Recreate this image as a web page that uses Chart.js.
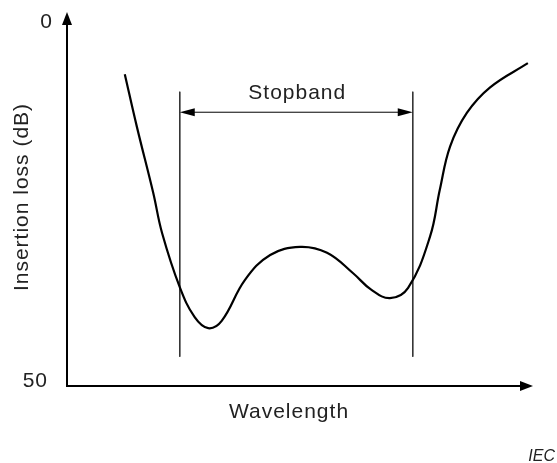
<!DOCTYPE html>
<html lang="en">
<head>
  <meta charset="UTF-8">
  <title>Insertion loss vs wavelength - stopband</title>
  <style>
    html, body { margin: 0; padding: 0; background: #fff; }
    .chart-container { width: 557px; height: 463px; }
  </style>
</head>
<body>
  <div class="chart-container">
    <canvas id="lossChart"></canvas>
  </div>

  <script src="https://cdn.jsdelivr.net/npm/chart.js"></script>
  <script>
    // wavelength (arbitrary units, no ticks on the axis)
    const wavelength = [12.4, 15.0, 18.5, 20.4, 24.2, 27.4, 30.3, 33.2, 38.2, 43.6, 50.0,
                        55.8, 61.4, 65.2, 69.3, 73.2, 77.9, 80.0, 82.2, 85.8, 90.8, 98.9];
    // insertion loss in dB (0 at top, 50 at bottom)
    const insertionLoss = [7.4, 14.6, 23.6, 29.1, 36.5, 40.6, 42.1, 41.1, 35.5, 32.1, 31.0,
                           31.8, 34.6, 36.8, 38.0, 36.6, 29.6, 23.2, 17.3, 12.7, 9.2, 5.9];

    const stopbandEdges = [24.2, 74.2];
    const stopbandSpan = [9.8, 46.0];   // dB extent of the edge markers
    const stopbandArrowAt = 12.6;       // dB level of the double arrow
    const yTickLabels = [0, 50];

    const FONT = '"Liberation Sans", Arial, sans-serif';

    const curve = wavelength.map((x, i) => ({ x: x, y: insertionLoss[i] }));
    const edgeSets = stopbandEdges.map(x => ({
      data: [{ x: x, y: stopbandSpan[0] }, { x: x, y: stopbandSpan[1] }],
      borderColor: '#333',
      borderWidth: 1,
      pointRadius: 0,
      tension: 0
    }));

    function arrowHead(c, tipX, tipY, dx, dy, len, half) {
      // dx,dy = unit direction the arrow points to
      const bx = tipX - dx * len, by = tipY - dy * len;
      c.beginPath();
      c.moveTo(tipX, tipY);
      c.lineTo(bx - dy * half, by + dx * half);
      c.lineTo(bx + dy * half, by - dx * half);
      c.closePath();
      c.fill();
    }

    const decorations = {
      id: 'decorations',
      afterDraw(chart) {
        const c = chart.ctx;
        const xs = chart.scales.x, ys = chart.scales.y;
        const area = chart.chartArea;
        c.save();
        c.fillStyle = '#000';
        c.strokeStyle = '#000';

        // axes with arrows
        c.lineWidth = 2;
        c.beginPath();
        c.moveTo(area.left, area.bottom + 1);
        c.lineTo(area.left, 24);
        c.moveTo(area.left - 1, area.bottom);
        c.lineTo(area.right - 10, area.bottom);
        c.stroke();
        arrowHead(c, area.left, 12, 0, -1, 13, 5);
        arrowHead(c, area.right, area.bottom, 1, 0, 13, 5);

        // stopband double arrow
        const xl = xs.getPixelForValue(stopbandEdges[0]);
        const xr = xs.getPixelForValue(stopbandEdges[1]);
        const ya = ys.getPixelForValue(stopbandArrowAt);
        c.lineWidth = 1;
        c.beginPath();
        c.moveTo(xl + 10, ya);
        c.lineTo(xr - 10, ya);
        c.stroke();
        arrowHead(c, xl, ya, -1, 0, 15, 4);
        arrowHead(c, xr, ya, 1, 0, 15, 4);

        c.fillStyle = '#222';
        c.font = '21px ' + FONT;
        c.letterSpacing = '1px';
        c.textAlign = 'center';
        c.textBaseline = 'alphabetic';
        c.fillText('Stopband', (xl + xr) / 2 + 1, 99);

        // y tick labels
        c.textAlign = 'right';
        c.fillText(String(yTickLabels[0]), 53, 28);
        c.fillText(String(yTickLabels[1]), 48, 387);

        // axis titles
        c.textAlign = 'center';
        c.fillText('Wavelength', 289, 418);
        c.save();
        c.translate(28, 197);
        c.rotate(-Math.PI / 2);
        c.fillText('Insertion loss (dB)', 0, 0);
        c.restore();

        // source mark
        c.letterSpacing = '0px';
        c.font = 'italic 16px ' + FONT;
        c.textAlign = 'right';
        c.fillText('IEC', 555, 461);
        c.restore();
      }
    };

    new Chart(document.getElementById('lossChart'), {
      type: 'line',
      data: {
        datasets: [{
          data: curve,
          borderColor: '#000',
          borderWidth: 2.2,
          pointRadius: 0,
          fill: false,
          tension: 0.4
        }].concat(edgeSets)
      },
      options: {
        responsive: true,
        maintainAspectRatio: false,
        animation: false,
        layout: { padding: { left: 67, right: 24, top: 20, bottom: 77 } },
        plugins: { legend: { display: false }, tooltip: { enabled: false } },
        scales: {
          x: { type: 'linear', min: 0, max: 100, display: false },
          y: { type: 'linear', min: 0, max: 50, reverse: true, display: false }
        }
      },
      plugins: [decorations]
    });
  </script>
</body>
</html>
